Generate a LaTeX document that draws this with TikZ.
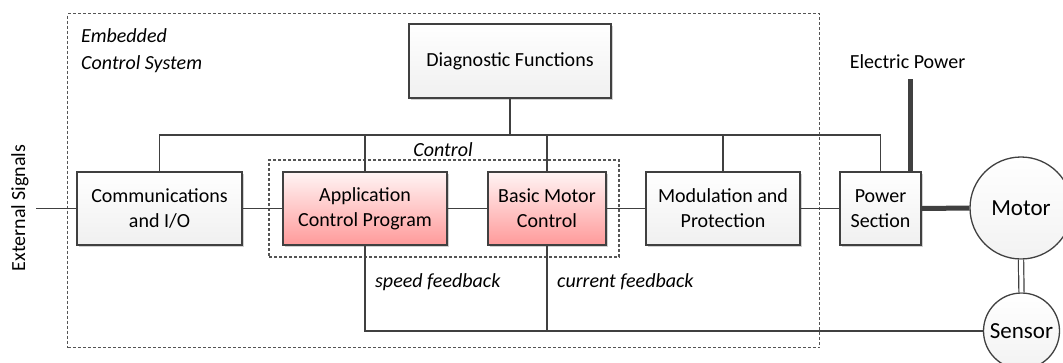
\documentclass[tikz,border=0pt]{standalone}
\usepackage{fontspec}
\setmainfont{Carlito}
\usetikzlibrary{shadows}
\definecolor{linec}{HTML}{404040}
\definecolor{dashc}{HTML}{555555}
\definecolor{redtop}{HTML}{FFF4F4}
\definecolor{redbot}{HTML}{FF9A9A}
\begin{document}
\begin{tikzpicture}[x=1pt,y=-1pt,
  every node/.style={font=\fontsize{20}{25}\selectfont},
  blockbox/.style={draw=linec, line width=1.8pt, align=center, inner sep=0pt,
    minimum height=73pt, top color=white, bottom color=gray!12,
    drop shadow={shadow xshift=2pt, shadow yshift=-2pt, fill=black, opacity=0.18}},
  redbox/.style={blockbox, top color=redtop, bottom color=redbot},
  roundbox/.style={circle, draw=linec, line width=1.3pt, inner sep=0pt,
    top color=white, bottom color=gray!10, font=\fontsize{23}{28}\selectfont},
  wire/.style={draw=linec, line width=1.4pt},
  heavy/.style={draw=linec, line width=5pt},
  frame/.style={draw=dashc, line width=1.3pt, dash pattern=on 3pt off 2pt, inner sep=0pt},
  tag/.style={font=\fontsize{20}{27.5}\selectfont\itshape, inner sep=0pt}]
\useasboundingbox (0,0) rectangle (1063,362);

% dashed frames
\node[frame, minimum width=752pt, minimum height=334pt] (ecs) at (443.75,180.5) {};
\node[frame, minimum width=350pt, minimum height=97pt] (ctrl) at (444,208.5) {};

% blocks
\node[blockbox, minimum width=202pt, minimum height=74pt] (diag) at (510,61) {Diagnostic Functions};
\node[blockbox, minimum width=165pt] (comm) at (159.5,208.5) {Communications\\and I/O};
\node[redbox, minimum width=164pt] (app) at (365,208.5) {Application\\Control Program};
\node[redbox, minimum width=118pt] (basic) at (547,208.5) {Basic Motor\\Control};
\node[blockbox, minimum width=154pt] (mod) at (723,208.5) {Modulation and\\Protection};
\node[blockbox, minimum width=81pt] (power) at (880.5,208.5) {Power\\Section};
\node[roundbox, minimum size=102pt] (motor) at (1021,208) {Motor};
\node[roundbox, minimum size=76pt] (sensor) at (1021.5,331) {Sensor};

% labels
\node[tag, anchor=north west, align=left] (ecslabel) at (81,28) {Embedded\\Control System};
\node[tag, anchor=base] (ctrllabel) at (443,156) {Control};
\node[tag, anchor=base west] (speed) at (375,287) {speed feedback};
\node[tag, anchor=base west] (current) at (557,287) {current feedback};
\node[anchor=base, inner sep=0pt] (eplabel) at (907.5,68) {Electric Power};
\node[rotate=90, inner sep=0pt] (extlabel) at (20,208) {External Signals};

% helper points
\coordinate (busy) at (0,135);
\coordinate (ext) at (36,208.5);
\coordinate (ep) at (910,79);

% common bus
\draw[wire] (comm.north) |- (power.north |- busy) -- (power.north);
\draw[wire] (diag.south) -- (diag.south |- busy);
\draw[wire] (app.north) -- (app.north |- busy);
\draw[wire] (basic.north) -- (basic.north |- busy);
\draw[wire] (mod.north) -- (mod.north |- busy);

% signal chain
\draw[wire] (ext) -- (comm.west);
\draw[wire] (comm.east) -- (app.west);
\draw[wire] (app.east) -- (basic.west);
\draw[wire] (basic.east) -- (mod.west);
\draw[wire] (mod.east) -- (power.west);

% feedback
\draw[wire] (app.south) |- (sensor.west);
\draw[wire] (basic.south) -- (basic.south |- sensor.west);

% power path
\draw[heavy] (ep) -- (ep |- power.north);
\draw[heavy] (power.east) -- (motor.west);
\draw[draw=linec, line width=1.2pt, double=white, double distance=4pt] (motor.south) -- (sensor.north);
\end{tikzpicture}
\end{document}
